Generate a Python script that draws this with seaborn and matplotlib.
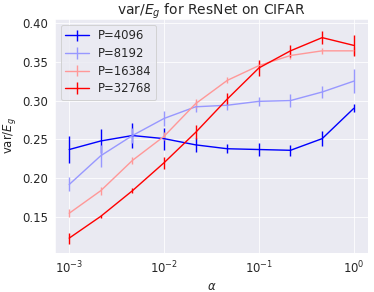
import numpy as np
import matplotlib
matplotlib.use("Agg")
import matplotlib.pyplot as plt
import seaborn as sns

sns.set_style("darkgrid")
plt.rcParams['font.family'] = ['DejaVu Sans']
plt.rcParams['font.size'] = 11.6

# alpha values (log-spaced)
alphas = [0.001, 0.00215, 0.00464, 0.01, 0.0215, 0.0464, 0.1, 0.215, 0.464, 1.0]

labels = ["P=4096", "P=8192", "P=16384", "P=32768"]

var_4096 = [0.237, 0.248, 0.255, 0.251, 0.243, 0.238, 0.237, 0.236, 0.251, 0.290]
err_4096 = [0.017, 0.015, 0.016, 0.014, 0.009, 0.006, 0.008, 0.007, 0.010, 0.005]

var_8192 = [0.192, 0.229, 0.255, 0.277, 0.292, 0.294, 0.299, 0.300, 0.311, 0.325]
err_8192 = [0.009, 0.014, 0.010, 0.010, 0.007, 0.006, 0.006, 0.008, 0.008, 0.015]

var_16384 = [0.155, 0.184, 0.223, 0.254, 0.296, 0.326, 0.345, 0.358, 0.364, 0.364]
err_16384 = [0.005, 0.005, 0.005, 0.005, 0.006, 0.004, 0.004, 0.004, 0.004, 0.005]

var_32768 = [0.123, 0.151, 0.184, 0.220, 0.259, 0.302, 0.342, 0.364, 0.381, 0.371]
err_32768 = [0.007, 0.002, 0.003, 0.008, 0.009, 0.008, 0.010, 0.008, 0.008, 0.014]

series = [var_4096, var_8192, var_16384, var_32768]
errors = [err_4096, err_8192, err_16384, err_32768]
cmap = plt.get_cmap("bwr")
colors = [cmap(0.0), cmap(0.3), cmap(0.7), cmap(1.0)]

fig, ax = plt.subplots(figsize=(374 / 72, 292 / 72), dpi=72)
fig.subplots_adjust(left=0.147, right=0.984, top=0.935, bottom=0.134)

for vals, errs, lab, col in zip(series, errors, labels, colors):
    ax.errorbar(alphas, vals, yerr=errs, color=col, label=lab, lw=1.4, elinewidth=1.4)

ax.set_xscale("log")
ax.set_ylim(0.104, 0.405)
ax.set_xlabel(r"$\alpha$")
ax.set_ylabel(r"var/$E_g$")
ax.set_title(r"var/$E_g$ for ResNet on CIFAR", pad=4)
ax.legend(loc="upper left", labelspacing=0.4)

plt.savefig("out.png", dpi=72)
